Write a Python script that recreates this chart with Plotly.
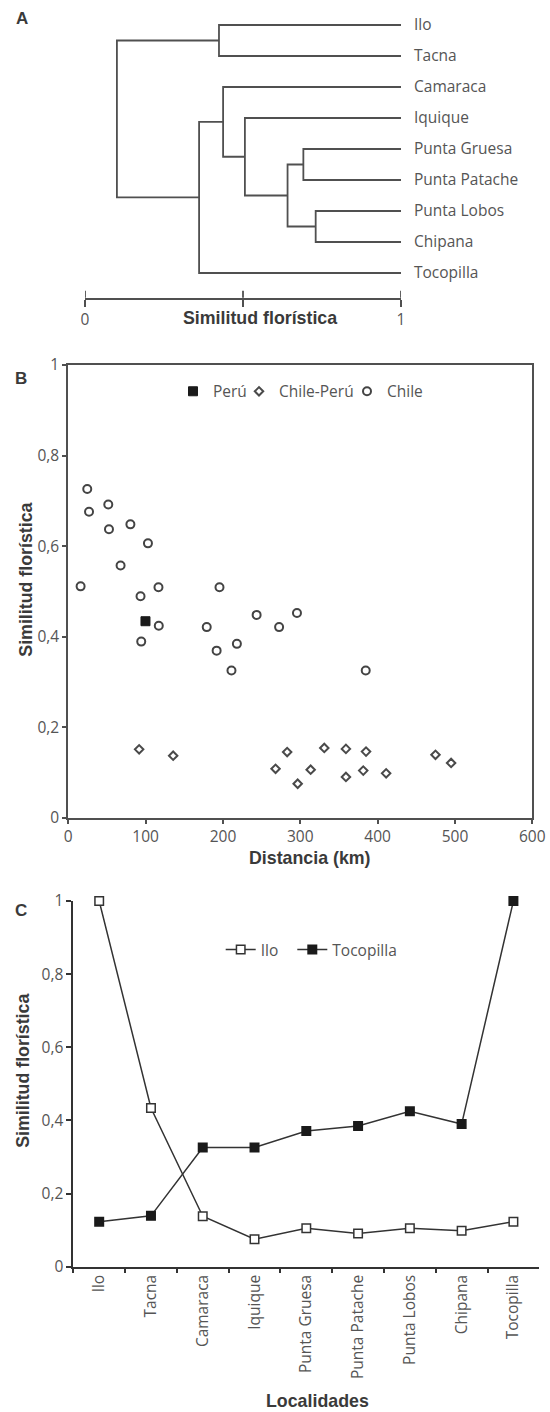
import plotly.graph_objects as go

W, H = 550, 1412


def px_x(p):
    return p / W


def px_y(p):
    return 1 - p / H


# ---------------- Data ----------------
# Panel A: dendrogram (leaf order top -> bottom, merges with similarity)
leaves = ["Ilo", "Tacna", "Camaraca", "Iquique", "Punta Gruesa",
          "Punta Patache", "Punta Lobos", "Chipana", "Tocopilla"]
merge_left = ["Ilo", "Punta Gruesa", "Punta Lobos", "m2", "Iquique", "Camaraca", "m6", "m1"]
merge_right = ["Tacna", "Punta Patache", "Chipana", "m3", "m4", "m5", "Tocopilla", "m7"]
merge_sim = [0.424, 0.691, 0.730, 0.641, 0.506, 0.437, 0.361, 0.101]
scale_ticks = [0, 0.5, 1]
scale_labels = ["0", "", "1"]

# Panel B: similarity vs distance
peru_km = [99.8]
peru_sim = [0.434]
chile_km = [15.9, 24.5, 26.8, 51.7, 52.6, 80.3, 103, 67.6, 116.6, 93.4, 117,
            94.3, 195.5, 179, 191.8, 218, 211, 243.5, 272.6, 295.7, 384.6]
chile_sim = [0.511, 0.726, 0.676, 0.692, 0.637, 0.648, 0.606, 0.557, 0.509, 0.489, 0.424,
             0.389, 0.509, 0.421, 0.369, 0.384, 0.325, 0.448, 0.421, 0.452, 0.325]
cp_km = [91.6, 135.6, 268, 283, 296.6, 313.4, 331, 359, 359, 385, 381.4, 411, 474.8, 495]
cp_sim = [0.151, 0.137, 0.108, 0.145, 0.075, 0.106, 0.154, 0.152, 0.090, 0.146,
          0.104, 0.098, 0.139, 0.121]

# Panel C: similarity of each locality with Ilo and Tocopilla
localidades = leaves
ilo_sim = [1.0, 0.434, 0.138, 0.075, 0.105, 0.091, 0.105, 0.098, 0.123]
toc_sim = [0.123, 0.139, 0.326, 0.326, 0.371, 0.385, 0.425, 0.390, 1.0]

# ---------------- Styles ----------------
REG = "Open Sans"
BOLD = "Liberation Sans"
TXT = "#555555"
DARK = "#333333"
LINE = "#505050"
FS = 15.5
TFS = 17.8

fig = go.Figure()

# ---- Panel A: dendrogram segments computed from merges ----
pos = {name: (1.0, i) for i, name in enumerate(leaves)}
dx, dy = [], []
for k, (l, r, s) in enumerate(zip(merge_left, merge_right, merge_sim)):
    xl, yl = pos[l]
    xr, yr = pos[r]
    dx += [xl, s, s, xr, None]
    dy += [yl, yl, yr, yr, None]
    pos[f"m{k + 1}"] = (s, (yl + yr) / 2)

fig.add_trace(go.Scatter(x=dx, y=dy, mode="lines", line=dict(color=LINE, width=1.8),
                         showlegend=False, hoverinfo="skip", xaxis="x", yaxis="y"))

# ---- Panel B ----
fig.add_trace(go.Scatter(x=peru_km, y=peru_sim, mode="markers", name="Perú",
                         marker=dict(symbol="square", size=9, color="#1a1a1a",
                                     line=dict(color="#1a1a1a", width=1)),
                         xaxis="x2", yaxis="y2", legend="legend"))
fig.add_trace(go.Scatter(x=cp_km, y=cp_sim, mode="markers", name="Chile-Perú",
                         marker=dict(symbol="diamond", size=6.5, color="white",
                                     line=dict(color="#4a4a4a", width=2)),
                         xaxis="x2", yaxis="y2", legend="legend2"))
fig.add_trace(go.Scatter(x=chile_km, y=chile_sim, mode="markers", name="Chile",
                         marker=dict(symbol="circle", size=8, color="white",
                                     line=dict(color="#444444", width=2)),
                         xaxis="x2", yaxis="y2", legend="legend3"))

# ---- Panel C ----
fig.add_trace(go.Scatter(x=localidades, y=ilo_sim, mode="lines+markers", name="Ilo",
                         line=dict(color=DARK, width=1.5),
                         marker=dict(symbol="square", size=8.5, color="white",
                                     line=dict(color=DARK, width=1.5)),
                         cliponaxis=False, xaxis="x3", yaxis="y3", legend="legend4"))
fig.add_trace(go.Scatter(x=localidades, y=toc_sim, mode="lines+markers", name="Tocopilla",
                         line=dict(color=DARK, width=1.5),
                         marker=dict(symbol="square", size=8.5, color="#1a1a1a",
                                     line=dict(color="#1a1a1a", width=1.5)),
                         cliponaxis=False, xaxis="x3", yaxis="y3", legend="legend5"))

tickfont = dict(family=REG, size=FS, color=TXT)

# Panel A axes
barY = 297.7
yA_top, yA_bot = 9.0, barY
leaf_top, leaf_step = 25.0, 31.0
rA = [(yA_bot - leaf_top) / leaf_step, (yA_top - leaf_top) / leaf_step]


def leg(x, y):
    return dict(orientation="h", x=px_x(x), y=px_y(y), xanchor="left",
                yanchor="middle", font=dict(family=REG, size=FS, color=TXT),
                bgcolor="rgba(0,0,0,0)", borderwidth=0)


layout = dict(
    width=W, height=H,
    margin=dict(l=0, r=0, t=0, b=0, pad=0, autoexpand=False),
    paper_bgcolor="white", plot_bgcolor="white",
    separators=",.",
    font=dict(family=REG, size=FS, color=TXT),
    xaxis=dict(domain=[px_x(85), px_x(401)], range=[0, 1], anchor="y", automargin=False,
               tickmode="array", tickvals=scale_ticks, ticktext=scale_labels,
               ticks="outside", ticklen=7, tickwidth=1.8, tickcolor=LINE,
               showline=True, linecolor=LINE, linewidth=1.8,
               showgrid=False, zeroline=False, tickfont=tickfont),
    yaxis=dict(domain=[px_y(yA_bot), px_y(yA_top)], range=rA, anchor="x", side="right",
               automargin=False,
               tickmode="array", tickvals=list(range(len(leaves))), ticktext=leaves,
               ticks="", showline=False, showgrid=False, zeroline=False,
               ticklabelstandoff=12, tickfont=tickfont),
    xaxis2=dict(domain=[px_x(68.3), px_x(532.3)], range=[0, 600], anchor="y2", automargin=False,
                tickmode="linear", tick0=0, dtick=100,
                ticks="outside", ticklen=4, tickwidth=1.5, tickcolor=LINE,
                showline=True, mirror=True, linecolor=LINE, linewidth=2,
                showgrid=False, zeroline=False, tickfont=tickfont),
    yaxis2=dict(domain=[px_y(817.7), px_y(365)], range=[0, 1], anchor="x2", automargin=False,
                tickmode="linear", tick0=0, dtick=0.2,
                ticks="outside", ticklen=4, tickwidth=1.5, tickcolor=LINE,
                showline=True, mirror=True, linecolor=LINE, linewidth=2,
                showgrid=False, zeroline=False, tickfont=tickfont),
    xaxis3=dict(domain=[px_x(73.3), px_x(539.3)], type="category", range=[-0.5, 8.5],
                anchor="y3", tickson="boundaries", tickangle=-90, automargin=False,
                ticks="outside", ticklen=4, tickwidth=1.5, tickcolor=DARK,
                showline=True, linecolor=DARK, linewidth=1.8,
                showgrid=False, zeroline=False, tickfont=tickfont),
    yaxis3=dict(domain=[px_y(1266.7), px_y(901)], range=[0, 1], anchor="x3", automargin=False,
                tickmode="linear", tick0=0, dtick=0.2,
                ticks="outside", ticklen=5, tickwidth=1.5, tickcolor=DARK,
                showline=True, linecolor=DARK, linewidth=1.8,
                showgrid=False, zeroline=False, tickfont=tickfont),
    legend=leg(173, 391.7),
    legend2=leg(239, 391.7),
    legend3=leg(347, 391.7),
    legend4=leg(220.7, 950),
    legend5=leg(292.3, 950),
)
fig.update_layout(**layout)

# upward half of scale-bar ticks (bar crosses ticks)
for t in scale_ticks:
    fig.add_shape(type="line", xref="x", yref="paper", x0=t, x1=t,
                  y0=px_y(barY), y1=px_y(barY - 7), line=dict(color=LINE, width=1.8))


def ann(text, x, y, size=TFS, angle=0, color="#3a3a3a"):
    fig.add_annotation(text=f"<b>{text}</b>", x=px_x(x), y=px_y(y), xref="paper", yref="paper",
                       xanchor="center", yanchor="middle", showarrow=False, textangle=angle,
                       font=dict(family=BOLD, size=size, color=color))


ann("A", 21.7, 19, size=17)
ann("B", 20.7, 379, size=17)
ann("C", 20.7, 910, size=17)
ann("Similitud florística", 260, 318)
ann("Similitud florística", 25.7, 580, angle=-90)
ann("Distancia (km)", 310, 858)
ann("Similitud florística", 22.8, 1071, angle=-90)
ann("Localidades", 317, 1400.5)

fig.write_html(
    "out.html",
    config={"displayModeBar": False},
    post_script="document.documentElement.style.margin='0';"
                "document.body.style.margin='0';"
                "document.body.style.overflow='hidden';",
)
